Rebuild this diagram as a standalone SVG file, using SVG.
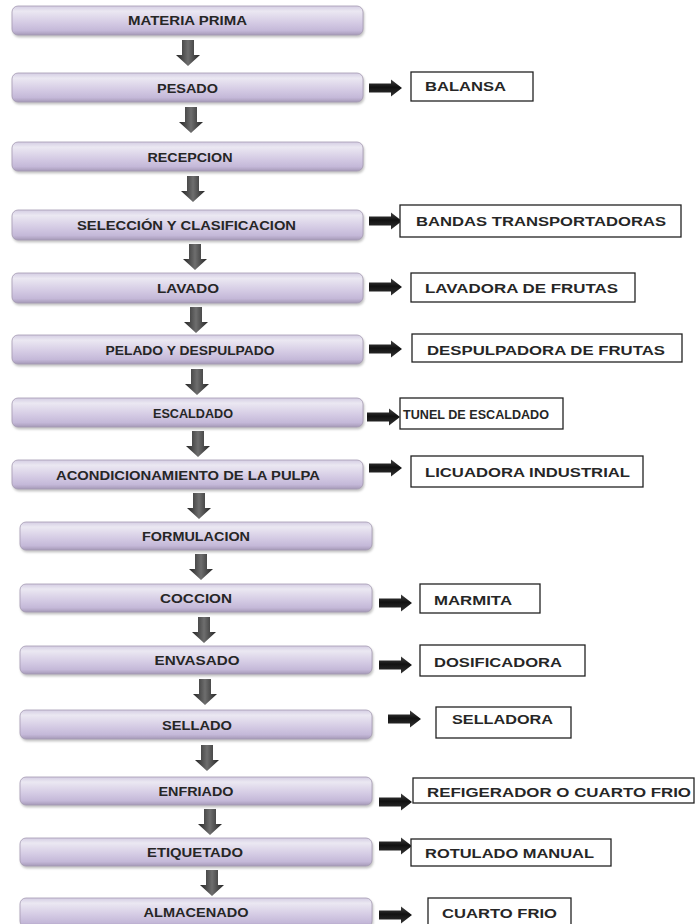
<svg xmlns="http://www.w3.org/2000/svg" xmlns:xlink="http://www.w3.org/1999/xlink" width="698" height="924" viewBox="0 0 698 924">
<style>
.step rect{fill:url(#boxGrad);stroke:#a49bb3;stroke-width:0.8;filter:url(#shadow)}
.step text{font-family:"Liberation Sans",Arial,sans-serif;font-weight:bold;font-size:12px;fill:#262626;text-anchor:middle}
.equip rect{fill:#fff;stroke:#222;stroke-width:1.3}
.equip text{font-family:"Liberation Sans",Arial,sans-serif;font-weight:bold;font-size:13.5px;fill:#262626}
.down{fill:url(#downGrad)}
.right{fill:url(#rightGrad)}
</style>
<defs>
<linearGradient id="boxGrad" x1="0" y1="0" x2="0" y2="1">
<stop offset="0" stop-color="#d4cde3"/>
<stop offset="0.18" stop-color="#ebe8f2"/>
<stop offset="0.55" stop-color="#d6cde5"/>
<stop offset="0.85" stop-color="#c4b8d8"/>
<stop offset="1" stop-color="#a69ab8"/>
</linearGradient>
<linearGradient id="downGrad" x1="0" y1="0" x2="1" y2="0">
<stop offset="0" stop-color="#252525"/>
<stop offset="0.5" stop-color="#6e6e6e"/>
<stop offset="1" stop-color="#252525"/>
</linearGradient>
<linearGradient id="rightGrad" x1="0" y1="0" x2="0" y2="1">
<stop offset="0" stop-color="#444"/>
<stop offset="0.45" stop-color="#111"/>
<stop offset="1" stop-color="#333"/>
</linearGradient>
<filter id="shadow" x="-5%" y="-30%" width="110%" height="170%">
<feDropShadow dx="1" dy="2" stdDeviation="1.2" flood-color="#888" flood-opacity="0.5"/>
</filter>
<path id="da" d="M-6,0 V15 H-12 L0,26 L12,15 H6 V0 Z"/>
<path id="ra" d="M0,-4.5 H22 V-8.5 L33,0 L22,8.5 V4.5 H0 Z"/>
</defs>

<g id="connectors">
<use href="#da" class="down" x="188" y="40"/>
<use href="#da" class="down" x="191" y="107"/>
<use href="#da" class="down" x="193" y="176"/>
<use href="#da" class="down" x="195" y="244"/>
<use href="#da" class="down" x="196" y="307"/>
<use href="#da" class="down" x="197" y="369"/>
<use href="#da" class="down" x="198" y="431"/>
<use href="#da" class="down" x="199" y="493"/>
<use href="#da" class="down" x="201" y="554"/>
<use href="#da" class="down" x="204" y="617"/>
<use href="#da" class="down" x="205" y="679"/>
<use href="#da" class="down" x="207" y="745"/>
<use href="#da" class="down" x="210" y="809"/>
<use href="#da" class="down" x="212" y="870"/>

<use href="#ra" class="right" x="369" y="88"/>
<use href="#ra" class="right" x="369" y="221"/>
<use href="#ra" class="right" x="369" y="287"/>
<use href="#ra" class="right" x="369" y="349"/>
<use href="#ra" class="right" x="367" y="417"/>
<use href="#ra" class="right" x="369" y="468"/>
<use href="#ra" class="right" x="379" y="603"/>
<use href="#ra" class="right" x="379" y="665"/>
<use href="#ra" class="right" x="388" y="719"/>
<use href="#ra" class="right" x="379" y="802"/>
<use href="#ra" class="right" x="379" y="846"/>
<use href="#ra" class="right" x="379" y="915"/>
</g>

<g id="s1" class="step"><rect x="12" y="6" width="351" height="29" rx="6"/><text x="187.5" y="25" textLength="119" lengthAdjust="spacingAndGlyphs">MATERIA PRIMA</text></g>
<g id="s2" class="step"><rect x="12" y="73" width="351" height="29" rx="6"/><text x="187.5" y="92.5" textLength="61" lengthAdjust="spacingAndGlyphs">PESADO</text></g>
<g id="s3" class="step"><rect x="12" y="142" width="351" height="29" rx="6"/><text x="190" y="161.5" textLength="85" lengthAdjust="spacingAndGlyphs">RECEPCION</text></g>
<g id="s4" class="step"><rect x="12" y="210" width="351" height="30" rx="6"/><text x="186.5" y="230" textLength="219" lengthAdjust="spacingAndGlyphs">SELECCIÓN Y CLASIFICACION</text></g>
<g id="s5" class="step"><rect x="12" y="273" width="351" height="30" rx="6"/><text x="188" y="293" textLength="62" lengthAdjust="spacingAndGlyphs">LAVADO</text></g>
<g id="s6" class="step"><rect x="12" y="335" width="351" height="29" rx="6"/><text x="190" y="355" textLength="169" lengthAdjust="spacingAndGlyphs">PELADO Y DESPULPADO</text></g>
<g id="s7" class="step"><rect x="12" y="398" width="351" height="29" rx="6"/><text x="193" y="417.5" textLength="80" lengthAdjust="spacingAndGlyphs">ESCALDADO</text></g>
<g id="s8" class="step"><rect x="12" y="460" width="351" height="29" rx="6"/><text x="188" y="479.5" textLength="264" lengthAdjust="spacingAndGlyphs">ACONDICIONAMIENTO DE LA PULPA</text></g>
<g id="s9" class="step"><rect x="20" y="522" width="352" height="28" rx="6"/><text x="196" y="540.5" textLength="108" lengthAdjust="spacingAndGlyphs">FORMULACION</text></g>
<g id="s10" class="step"><rect x="20" y="584" width="352" height="28" rx="6"/><text x="196" y="603" textLength="72" lengthAdjust="spacingAndGlyphs">COCCION</text></g>
<g id="s11" class="step"><rect x="20" y="646" width="352" height="28" rx="6"/><text x="197" y="665" textLength="85" lengthAdjust="spacingAndGlyphs">ENVASADO</text></g>
<g id="s12" class="step"><rect x="20" y="710" width="352" height="29" rx="6"/><text x="197" y="729.5" textLength="70" lengthAdjust="spacingAndGlyphs">SELLADO</text></g>
<g id="s13" class="step"><rect x="20" y="777" width="352" height="28" rx="6"/><text x="196" y="796" textLength="75" lengthAdjust="spacingAndGlyphs">ENFRIADO</text></g>
<g id="s14" class="step"><rect x="20" y="838" width="352" height="28" rx="6"/><text x="195" y="857" textLength="96" lengthAdjust="spacingAndGlyphs">ETIQUETADO</text></g>
<g id="s15" class="step"><rect x="20" y="898" width="352" height="29" rx="6"/><text x="196" y="917" textLength="105" lengthAdjust="spacingAndGlyphs">ALMACENADO</text></g>

<g id="e1" class="equip"><rect x="411" y="72" width="122" height="29"/><text x="425" y="91" textLength="81" lengthAdjust="spacingAndGlyphs">BALANSA</text></g>
<g id="e2" class="equip"><rect x="400" y="205" width="281" height="32"/><text x="416" y="226" textLength="250" lengthAdjust="spacingAndGlyphs">BANDAS TRANSPORTADORAS</text></g>
<g id="e3" class="equip"><rect x="411" y="273" width="224" height="29"/><text x="425" y="293" textLength="193" lengthAdjust="spacingAndGlyphs">LAVADORA DE FRUTAS</text></g>
<g id="e4" class="equip"><rect x="412" y="334" width="270" height="28"/><text x="427" y="354.5" textLength="238" lengthAdjust="spacingAndGlyphs">DESPULPADORA DE FRUTAS</text></g>
<g id="e5" class="equip"><rect x="400" y="398" width="163" height="31"/><text x="403" y="418.5" textLength="146" lengthAdjust="spacingAndGlyphs">TUNEL DE ESCALDADO</text></g>
<g id="e6" class="equip"><rect x="411" y="456" width="232" height="31"/><text x="425" y="477" textLength="205" lengthAdjust="spacingAndGlyphs">LICUADORA INDUSTRIAL</text></g>
<g id="e7" class="equip"><rect x="420" y="584" width="120" height="29"/><text x="434" y="604.5" textLength="78" lengthAdjust="spacingAndGlyphs">MARMITA</text></g>
<g id="e8" class="equip"><rect x="420" y="645" width="165" height="31"/><text x="434" y="666.5" textLength="128" lengthAdjust="spacingAndGlyphs">DOSIFICADORA</text></g>
<g id="e9" class="equip"><rect x="436" y="707" width="135" height="31"/><text x="452" y="724" textLength="101" lengthAdjust="spacingAndGlyphs">SELLADORA</text></g>
<g id="e10" class="equip"><rect x="413" y="778" width="281" height="25"/><text x="427" y="796.5" textLength="264" lengthAdjust="spacingAndGlyphs">REFIGERADOR  O CUARTO FRIO</text></g>
<g id="e11" class="equip"><rect x="411" y="839" width="200" height="27"/><text x="425" y="857.5" textLength="169" lengthAdjust="spacingAndGlyphs">ROTULADO MANUAL</text></g>
<g id="e12" class="equip"><rect x="428" y="898" width="143" height="30"/><text x="442" y="917.5" textLength="115" lengthAdjust="spacingAndGlyphs">CUARTO FRIO</text></g>
</svg>
